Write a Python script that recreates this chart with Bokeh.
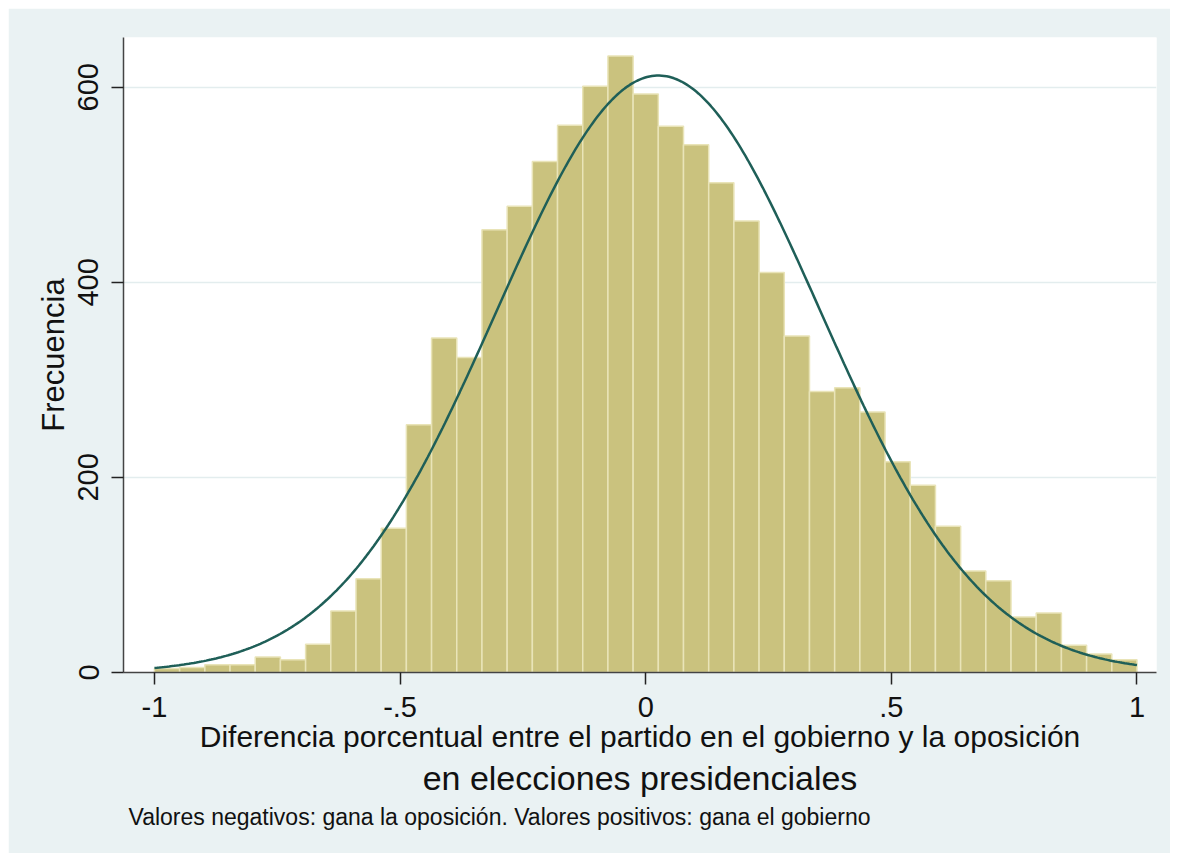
import numpy as np
from bokeh.plotting import figure
from bokeh.layouts import column, row
from bokeh.models import Range1d, FixedTicker, Title, Spacer
from bokeh.embed import file_html
from bokeh.resources import INLINE

# Histogram counts (39 bins from -1 to 1)
counts = [4, 5, 8, 8, 16, 13, 29, 63, 96, 148,
          254, 343, 323, 454, 478, 524, 561, 601, 632, 593,
          560, 541, 502, 463, 410, 345, 288, 292, 267, 216,
          192, 150, 104, 94, 57, 61, 28, 19, 13]
x_min, x_max = -1.0, 1.0

# Normal-density overlay parameters
curve_mean = 0.026
curve_sd = 0.329
curve_peak = 612

x_ticks = [-1, -0.5, 0, 0.5, 1]
x_tick_labels = ["-1", "-.5", "0", ".5", "1"]
y_ticks = [0, 200, 400, 600]

x_title = "Diferencia porcentual entre el partido en el gobierno y la oposición"
x_title2 = "en elecciones presidenciales"
y_title = "Frecuencia"
note = "Valores negativos: gana la oposición. Valores positivos: gana el gobierno"

FONT = "Liberation Sans"
BG = "#EAF2F3"
BAR = "#CAC27E"
BAR_EDGE = "#E9E4B8"
CURVE = "#1F5F58"

n_bins = len(counts)
edges = np.linspace(x_min, x_max, n_bins + 1)

p = figure(width=1162, height=845, output_backend="svg", toolbar_location=None,
           x_range=Range1d(-1.063, 1.0397), y_range=Range1d(0, 651),
           min_border_left=115, min_border_right=14, min_border_top=29,
           min_border_bottom=181)
p.background_fill_color = "white"
p.border_fill_color = BG
p.outline_line_color = None

p.quad(left=edges[:-1], right=edges[1:], bottom=0, top=counts,
       fill_color=BAR, line_color=BAR_EDGE, line_width=1.5)

xs = np.linspace(x_min, x_max, 400)
ys = curve_peak * np.exp(-0.5 * ((xs - curve_mean) / curve_sd) ** 2)
p.line(xs, ys, line_color=CURVE, line_width=2.5)

# axes
for ax in (p.xaxis[0], p.yaxis[0]):
    ax.axis_line_color = "#444444"
    ax.axis_line_width = 1.5
    ax.major_tick_line_color = "#222222"
    ax.major_tick_line_width = 1.5
    ax.major_tick_out = 12
    ax.major_tick_in = 0
    ax.minor_tick_line_color = None
    ax.major_label_text_font = FONT
    ax.major_label_text_font_size = "29px"
    ax.major_label_text_color = "#111111"
    ax.axis_label_text_font = FONT
    ax.axis_label_text_font_style = "normal"
    ax.axis_label_text_color = "#111111"

p.xaxis.ticker = FixedTicker(ticks=x_ticks)
p.xaxis.major_label_overrides = {t: l for t, l in zip(x_ticks, x_tick_labels)}
p.xaxis.major_label_standoff = 12
p.xaxis.axis_label = x_title
p.xaxis.axis_label_text_font_size = "30px"
p.xaxis.axis_label_standoff = 0

p.yaxis.ticker = FixedTicker(ticks=y_ticks)
p.yaxis.major_label_orientation = "vertical"
p.yaxis.major_label_standoff = 13
p.yaxis.axis_label = y_title
p.yaxis.axis_label_text_font_size = "31px"
p.yaxis.axis_label_standoff = 5

p.xgrid.grid_line_color = None
p.ygrid.ticker = FixedTicker(ticks=[200, 400, 600])
p.ygrid.grid_line_color = "#E3EDEE"
p.ygrid.grid_line_width = 1.5

# second line of the x title and the note, stacked below the x axis
p.add_layout(Title(text=x_title2, align="center", offset=5, text_font=FONT,
                   text_font_size="34px", text_font_style="normal",
                   text_color="#111111", standoff=3), "below")
p.add_layout(Title(text=note, align="left", offset=5, text_font=FONT,
                   text_font_size="23px", text_font_style="normal",
                   text_color="#111111", standoff=6), "below")

layout = column(Spacer(height=8), row(Spacer(width=8), p))
open("out.html", "w").write(file_html(layout, INLINE))
